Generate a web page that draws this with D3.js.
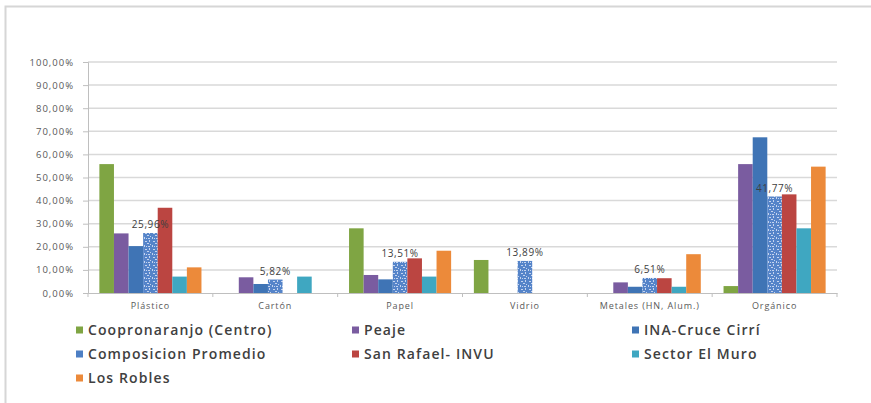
<!DOCTYPE html>
<html>
<head>
<meta charset="utf-8">
<script src="https://cdn.jsdelivr.net/npm/d3@7"></script>
<style>
  html, body { margin: 0; padding: 0; background: #fff; }
  svg { display: block; }
</style>
</head>
<body>
<svg id="chart" width="871" height="403"></svg>
<script>
const categories = ["Plástico", "Cartón", "Papel", "Vidrio", "Metales (HN, Alum.)", "Orgánico"];
const seriesNames = ["Coopronaranjo (Centro)", "Peaje", "INA-Cruce Cirrí", "Composicion Promedio", "San Rafael- INVU", "Sector El Muro", "Los Robles"];
const coopronaranjo = [55.8, 0, 28.0, 14.3, 0, 3.0];
const peaje = [25.8, 6.8, 7.8, 0, 4.6, 55.8];
const inaCruce = [20.3, 3.9, 5.9, 0, 2.7, 67.4];
const composicion = [25.96, 5.82, 13.51, 13.89, 6.51, 41.77];
const sanRafael = [36.9, 0, 15.0, 0, 6.4, 42.7];
const sectorMuro = [7.1, 7.1, 7.1, 0, 2.7, 28.0];
const losRobles = [11.1, 0, 18.3, 0, 16.8, 54.7];
const yTicks = [0, 10, 20, 30, 40, 50, 60, 70, 80, 90, 100];

const seriesValues = [coopronaranjo, peaje, inaCruce, composicion, sanRafael, sectorMuro, losRobles];
const colors = ["#7fa543", "#7a5ca0", "#3f74b5", "url(#confetti)", "#bb4541", "#3fa7c1", "#ec8a3a"];
const legendColors = ["#7fa543", "#7a5ca0", "#3f74b5", "#4d7fc4", "#bb4541", "#3fa7c1", "#ec8a3a"];

const svg = d3.select("#chart");

// pattern for Composicion Promedio
const defs = svg.append("defs");
const pat = defs.append("pattern").attr("id", "confetti").attr("patternUnits", "userSpaceOnUse")
  .attr("width", 8).attr("height", 8);
pat.append("rect").attr("width", 8).attr("height", 8).attr("fill", "#5584c9");
[[1,1,2,1],[5,0,1,2],[3,3,2,1],[0,5,1,2],[4,6,2,1],[6,4,1,1],[2,6,1,1]].forEach(r => {
  pat.append("rect").attr("x", r[0]).attr("y", r[1]).attr("width", r[2]).attr("height", r[3])
    .attr("fill", "#c4d4ef");
});

// outer frame
svg.append("path").attr("d", "M5.5,403 L5.5,6.5 L871,6.5").attr("fill", "none")
  .attr("stroke", "#d6d6d6").attr("stroke-width", 2);

const mLeft = 88, mRight = 837, mTop = 62, mBottom = 293;
const x0 = d3.scaleBand().domain(categories).range([mLeft, mRight]).padding(0);
const x1 = d3.scaleBand().domain(seriesNames).range([0, x0.bandwidth()]).paddingInner(0).paddingOuter(0.78);
const y = d3.scaleLinear().domain([0, 100]).range([mBottom, mTop]);

// gridlines
svg.append("g").selectAll("line").data(yTicks.filter(d => d > 0)).join("line")
  .attr("x1", mLeft).attr("x2", mRight)
  .attr("y1", d => y(d)).attr("y2", d => y(d))
  .attr("stroke", "#d9d9d9").attr("stroke-width", 1.5);

// y axis
const yAxis = svg.append("g").attr("transform", `translate(${mLeft},0)`)
  .call(d3.axisLeft(y).tickValues(yTicks).tickSize(5).tickPadding(9)
    .tickFormat(d => d3.format(".2f")(d).replace(".", ",") + "%"));
yAxis.select(".domain").attr("stroke", "#bfbfbf");
yAxis.selectAll(".tick line").attr("stroke", "#bfbfbf");
yAxis.selectAll("text").attr("fill", "#595959").attr("font-family", "Open Sans, sans-serif")
  .attr("font-size", 9.5).attr("letter-spacing", 1.0);

// x axis
const xAxis = svg.append("g").attr("transform", `translate(0,${mBottom})`)
  .call(d3.axisBottom(x0).tickSize(0).tickPadding(10));
xAxis.select(".domain").attr("stroke", "#bfbfbf");
xAxis.selectAll("text").attr("fill", "#595959").attr("font-family", "Open Sans, sans-serif")
  .attr("font-size", 9).attr("letter-spacing", 0.9);
// tick marks at category boundaries
const bounds = categories.map(c => x0(c)).concat([mRight]);
svg.append("g").selectAll("line").data(bounds).join("line")
  .attr("x1", d => d).attr("x2", d => d).attr("y1", mBottom).attr("y2", mBottom + 4)
  .attr("stroke", "#bfbfbf");

// bars
const groups = svg.append("g").selectAll("g").data(seriesNames).join("g")
  .attr("fill", (d, i) => colors[i]);
groups.selectAll("rect").data((s, i) => categories.map((c, j) => ({ c, v: seriesValues[i][j], s })))
  .join("rect")
  .attr("x", d => x0(d.c) + x1(d.s))
  .attr("y", d => y(d.v))
  .attr("width", x1.bandwidth())
  .attr("height", d => mBottom - y(d.v));

// data labels for Composicion Promedio
svg.append("g").selectAll("text").data(categories.map((c, j) => ({ c, v: composicion[j] })))
  .join("text")
  .attr("x", d => x0(d.c) + x1("Composicion Promedio") + x1.bandwidth() / 2)
  .attr("y", d => y(d.v) - 5)
  .attr("text-anchor", "middle")
  .attr("font-family", "Open Sans, sans-serif").attr("font-size", 10).attr("fill", "#404040")
  .attr("letter-spacing", 0.6)
  .text(d => d3.format(".2f")(d.v).replace(".", ",") + "%");

// legend
const legendPos = [[76, 330], [352, 330], [632, 330], [76, 354], [352, 354], [632, 354], [76, 378]];
const lg = svg.append("g").selectAll("g").data(seriesNames).join("g")
  .attr("transform", (d, i) => `translate(${legendPos[i][0]},${legendPos[i][1]})`);
lg.append("rect").attr("x", 0).attr("y", -3.5).attr("width", 7).attr("height", 7)
  .attr("fill", (d, i) => legendColors[i]);
lg.append("text").attr("x", 12).attr("y", 0).attr("dy", "0.35em")
  .attr("font-family", "Open Sans, sans-serif").attr("font-size", 14).attr("font-weight", 600)
  .attr("letter-spacing", 1.1)
  .attr("fill", "#404040")
  .text(d => d);
</script>
</body>
</html>
